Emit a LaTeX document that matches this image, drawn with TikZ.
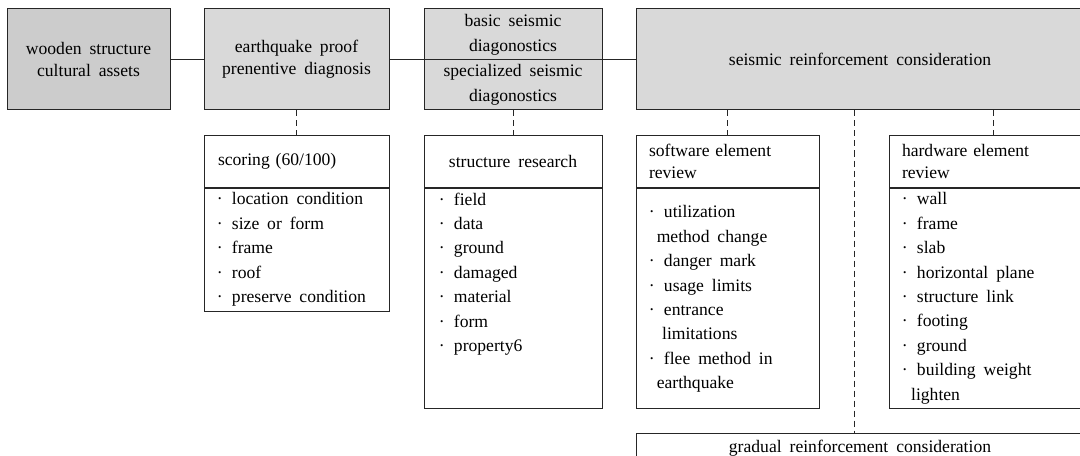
\documentclass[tikz,border=0pt]{standalone}
\usepackage{fontspec}
\setmainfont{Liberation Serif}[WordSpace=1.8]
\usetikzlibrary{calc}

\definecolor{boxgray}{RGB}{217,217,217}
\definecolor{rootgray}{RGB}{204,204,204}
\newcommand{\bul}{·\hspace{7pt}}

\begin{document}
\begin{tikzpicture}[x=0.75pt,y=-0.75pt,
  box/.style={draw=black!85, line width=0.75pt, inner sep=0pt, align=center,
    font=\fontsize{13.2}{16.5}\selectfont},
  stage/.style={box, fill=boxgray, minimum height=75.75pt},
  head/.style={box, minimum height=38.25pt},
  listbox/.style={box, anchor=north},
  items/.style={inner sep=0pt, anchor=north west, align=left,
    font=\fontsize{13.2}{18.3}\selectfont},
  link/.style={draw=black!85, line width=0.75pt},
  dashlink/.style={link, dash pattern=on 4.5pt off 3pt}]

\useasboundingbox (0,0) rectangle (1080,456);
\clip (0,0) rectangle (1080,456);

% Top row
\node[stage, fill=rootgray, minimum width=122.25pt] (wood) at (88.5,59.5)
  {wooden structure\\cultural assets};
\node[stage, minimum width=138.75pt] (diag) at (296.5,59.5)
  {earthquake proof\\prenentive diagnosis};
\node[stage, minimum width=133.5pt, minimum height=38.25pt,
  font=\fontsize{13.2}{18.75}\selectfont] (basic) at (513,34.5)
  {basic seismic\\diagonostics};
\node[stage, minimum width=133.5pt, minimum height=37.5pt,
  font=\fontsize{13.2}{18.75}\selectfont] (special) at (513,85)
  {specialized seismic\\diagonostics};
\node[stage, minimum width=336pt] (seis) at (860,59.5)
  {seismic reinforcement consideration};

% Lower row headers
\node[head, text width=117.75pt, inner xsep=10.5pt, align=left] (scoringhead)
  at (296.5,161.5) {scoring (60/100)};
\node[head, minimum width=133.5pt] (researchhead) at (513,161.5)
  {structure research};
\node[head, text width=117.75pt, inner xsep=9.75pt, align=left] (softhead)
  at (727.5,161.5) {software element\\review};
\node[head, text width=136.5pt, inner xsep=9.75pt, align=left] (hardhead)
  at (993,161.5) {hardware element\\review};

% Lower row lists
\node[listbox, minimum width=138.75pt, minimum height=92.25pt] (scoringlist)
  at (scoringhead.south) {};
\node[listbox, minimum width=133.5pt, minimum height=165pt] (researchlist)
  at (researchhead.south) {};
\node[listbox, minimum width=137.25pt, minimum height=165pt] (softlist)
  at (softhead.south) {};
\node[listbox, minimum width=156pt, minimum height=165pt] (hardlist)
  at (hardhead.south) {};

\node[items] (scoringitems) at ($(scoringlist.north west)+(13,5)$)
  {\bul location condition\\ \bul size or form\\ \bul frame\\ \bul roof\\
   \bul preserve condition};
\node[items] (researchitems) at ($(researchlist.north west)+(15,5)$)
  {\bul field\\ \bul data\\ \bul ground\\ \bul damaged\\ \bul material\\
   \bul form\\ \bul property6};
\node[items] (softitems) at ($(softlist.north west)+(13,18)$)
  {\bul utilization\\ \hspace*{6pt}method change\\ \bul danger mark\\
   \bul usage limits\\ \bul entrance\\ \hspace*{10pt}limitations\\
   \bul flee method in\\ \hspace*{6pt}earthquake};
\node[items] (harditems) at ($(hardlist.north west)+(13,5)$)
  {\bul wall\\ \bul frame\\ \bul slab\\ \bul horizontal plane\\
   \bul structure link\\ \bul footing\\ \bul ground\\ \bul building weight\\
   \hspace*{7pt}lighten};

\node[box, minimum width=336pt, minimum height=22.5pt] (gradual) at (860,448)
  {gradual reinforcement consideration};

% Solid links between stages
\draw[link] (wood) -- (diag);
\draw[link] (diag.east) -- (special.north west);
\draw[link] (special.north east) -- (seis.west);

% Dashed links down to details
\draw[dashlink] (diag) -- (scoringhead);
\draw[dashlink] (special) -- (researchhead);
\draw[dashlink] (softhead.north |- seis.south) -- (softhead.north);
\draw[dashlink] (hardhead.north |- seis.south) -- (hardhead.north);
\coordinate (gradtop) at (854,433);
\draw[dashlink] (gradtop |- seis.south) -- (gradtop);

\end{tikzpicture}
\end{document}
